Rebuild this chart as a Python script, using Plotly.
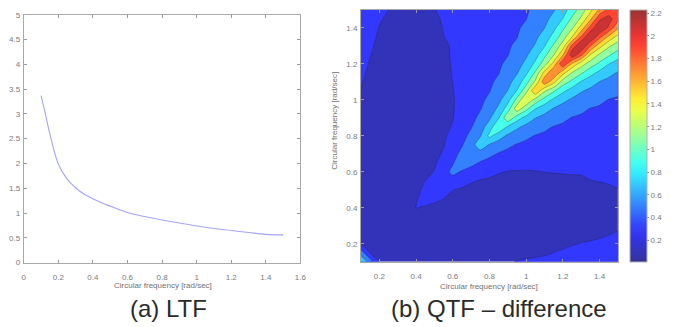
import plotly.graph_objects as go

# ---------------- data ----------------
# (a) LTF curve
ltf_freq = [0.10, 0.12, 0.15, 0.20, 0.25, 0.30, 0.35, 0.40, 0.45, 0.50, 0.60, 0.70,
            0.80, 0.90, 1.00, 1.10, 1.20, 1.30, 1.40, 1.50]
ltf_value = [3.37, 3.08, 2.61, 1.99, 1.69, 1.51, 1.38, 1.29, 1.21, 1.14, 1.01, 0.93,
             0.86, 0.80, 0.74, 0.69, 0.65, 0.61, 0.57, 0.56]

# (b) QTF difference
# rows: w2 (y), columns: w1 (x)
qtf_w1 = [0.1, 0.2, 0.3, 0.4, 0.5, 0.55, 0.6, 0.65, 0.7, 0.75, 0.8, 0.85, 0.9, 0.95,
          1.0, 1.05, 1.1, 1.15, 1.2, 1.25, 1.3, 1.35, 1.4, 1.45, 1.5]
qtf_w2 = [0.1, 0.2, 0.3, 0.4, 0.5, 0.55, 0.6, 0.65, 0.7, 0.75, 0.8, 0.85, 0.9, 0.95,
          1.0, 1.05, 1.1, 1.15, 1.2, 1.25, 1.3, 1.35, 1.4, 1.45, 1.5]
qtf_z = [
    [0.80, 0.19, 0.10, 0.08, 0.09, 0.095, 0.10, 0.11, 0.12, 0.135, 0.15, 0.17, 0.19, 0.205, 0.22, 0.23, 0.24, 0.255, 0.27, 0.285, 0.30, 0.315, 0.33, 0.345, 0.36],
    [0.19, 0.16, 0.08, 0.06, 0.05, 0.045, 0.04, 0.04, 0.04, 0.045, 0.05, 0.06, 0.07, 0.08, 0.09, 0.105, 0.12, 0.145, 0.17, 0.19, 0.205, 0.212, 0.22, 0.23, 0.24],
    [0.10, 0.08, 0.12, 0.10, 0.08, 0.075, 0.07, 0.065, 0.06, 0.055, 0.05, 0.05, 0.05, 0.055, 0.06, 0.065, 0.07, 0.08, 0.09, 0.105, 0.12, 0.135, 0.15, 0.167, 0.185],
    [0.08, 0.06, 0.10, 0.205, 0.16, 0.14, 0.12, 0.11, 0.10, 0.095, 0.09, 0.085, 0.08, 0.085, 0.09, 0.095, 0.10, 0.105, 0.11, 0.11, 0.11, 0.115, 0.12, 0.135, 0.15],
    [0.09, 0.05, 0.08, 0.16, 0.31, 0.26, 0.205, 0.18, 0.15, 0.15, 0.15, 0.145, 0.14, 0.145, 0.15, 0.155, 0.16, 0.165, 0.17, 0.17, 0.17, 0.17, 0.17, 0.185, 0.198],
    [0.095, 0.045, 0.075, 0.14, 0.26, 0.38, 0.32, 0.268, 0.22, 0.19, 0.18, 0.17, 0.165, 0.16, 0.16, 0.16, 0.165, 0.17, 0.17, 0.17, 0.17, 0.198, 0.204, 0.21, 0.216],
    [0.10, 0.04, 0.07, 0.12, 0.205, 0.32, 0.45, 0.382, 0.329, 0.282, 0.239, 0.209, 0.195, 0.19, 0.19, 0.195, 0.202, 0.205, 0.21, 0.215, 0.219, 0.223, 0.227, 0.231, 0.235],
    [0.105, 0.04, 0.065, 0.11, 0.18, 0.268, 0.382, 0.52, 0.452, 0.384, 0.336, 0.297, 0.27, 0.254, 0.246, 0.243, 0.243, 0.243, 0.243, 0.245, 0.246, 0.248, 0.249, 0.252, 0.254],
    [0.11, 0.04, 0.06, 0.10, 0.15, 0.22, 0.329, 0.452, 0.59, 0.522, 0.447, 0.386, 0.347, 0.321, 0.303, 0.292, 0.285, 0.28, 0.277, 0.275, 0.273, 0.272, 0.272, 0.272, 0.273],
    [0.12, 0.045, 0.055, 0.095, 0.15, 0.19, 0.282, 0.384, 0.522, 0.71, 0.584, 0.509, 0.44, 0.388, 0.361, 0.342, 0.328, 0.318, 0.31, 0.304, 0.30, 0.297, 0.294, 0.293, 0.292],
    [0.13, 0.05, 0.05, 0.09, 0.15, 0.18, 0.239, 0.336, 0.447, 0.584, 0.85, 0.69, 0.567, 0.499, 0.437, 0.391, 0.371, 0.356, 0.344, 0.334, 0.327, 0.321, 0.317, 0.313, 0.311],
    [0.14, 0.055, 0.05, 0.085, 0.145, 0.17, 0.209, 0.297, 0.386, 0.509, 0.69, 0.99, 0.776, 0.636, 0.552, 0.49, 0.434, 0.393, 0.377, 0.364, 0.354, 0.346, 0.339, 0.334, 0.33],
    [0.15, 0.06, 0.05, 0.08, 0.14, 0.165, 0.195, 0.27, 0.347, 0.44, 0.567, 0.776, 1.16, 0.897, 0.725, 0.605, 0.539, 0.483, 0.431, 0.394, 0.381, 0.371, 0.362, 0.355, 0.349],
    [0.165, 0.07, 0.055, 0.085, 0.145, 0.16, 0.19, 0.254, 0.321, 0.388, 0.499, 0.636, 0.897, 1.31, 1.06, 0.806, 0.682, 0.584, 0.528, 0.475, 0.427, 0.395, 0.384, 0.375, 0.368],
    [0.18, 0.08, 0.06, 0.09, 0.15, 0.16, 0.19, 0.246, 0.303, 0.361, 0.437, 0.552, 0.725, 1.06, 1.39, 1.133, 0.921, 0.758, 0.647, 0.57, 0.518, 0.47, 0.426, 0.396, 0.387],
    [0.195, 0.10, 0.065, 0.095, 0.155, 0.16, 0.195, 0.243, 0.292, 0.342, 0.391, 0.49, 0.605, 0.806, 1.133, 1.58, 1.236, 1.028, 0.842, 0.717, 0.617, 0.558, 0.511, 0.466, 0.424],
    [0.21, 0.12, 0.07, 0.10, 0.16, 0.165, 0.202, 0.243, 0.285, 0.328, 0.371, 0.434, 0.539, 0.682, 0.921, 1.236, 1.74, 1.47, 1.113, 0.944, 0.783, 0.684, 0.597, 0.549, 0.504],
    [0.225, 0.13, 0.075, 0.105, 0.165, 0.17, 0.205, 0.243, 0.28, 0.318, 0.356, 0.393, 0.483, 0.584, 0.758, 1.028, 1.47, 1.79, 1.475, 1.19, 1.031, 0.87, 0.747, 0.656, 0.584],
    [0.24, 0.14, 0.08, 0.11, 0.17, 0.17, 0.21, 0.243, 0.277, 0.31, 0.344, 0.377, 0.431, 0.528, 0.647, 0.842, 1.113, 1.475, 1.98, 1.576, 1.292, 1.102, 0.96, 0.805, 0.714],
    [0.255, 0.155, 0.09, 0.11, 0.17, 0.17, 0.215, 0.245, 0.275, 0.304, 0.334, 0.364, 0.394, 0.475, 0.57, 0.717, 0.944, 1.19, 1.576, 2.15, 1.86, 1.393, 1.165, 1.033, 0.893],
    [0.27, 0.17, 0.10, 0.11, 0.17, 0.17, 0.219, 0.246, 0.273, 0.30, 0.327, 0.354, 0.381, 0.427, 0.518, 0.617, 0.783, 1.031, 1.292, 1.86, 2.20, 1.82, 1.484, 1.236, 1.095],
    [0.285, 0.183, 0.115, 0.115, 0.17, 0.198, 0.223, 0.248, 0.272, 0.297, 0.321, 0.346, 0.371, 0.395, 0.47, 0.558, 0.684, 0.87, 1.102, 1.393, 1.82, 2.22, 1.876, 1.559, 1.333],
    [0.30, 0.195, 0.13, 0.12, 0.17, 0.204, 0.227, 0.249, 0.272, 0.294, 0.317, 0.339, 0.362, 0.384, 0.426, 0.511, 0.597, 0.747, 0.96, 1.165, 1.484, 1.876, 2.18, 1.965, 1.64],
    [0.315, 0.212, 0.15, 0.135, 0.185, 0.21, 0.231, 0.252, 0.272, 0.293, 0.313, 0.334, 0.355, 0.375, 0.396, 0.466, 0.549, 0.656, 0.805, 1.033, 1.236, 1.559, 1.965, 2.08, 1.856],
    [0.33, 0.23, 0.17, 0.15, 0.198, 0.216, 0.235, 0.254, 0.273, 0.292, 0.311, 0.33, 0.349, 0.368, 0.387, 0.424, 0.504, 0.584, 0.714, 0.893, 1.095, 1.333, 1.64, 1.856, 1.95],
]
cbar_ticks = [0.2, 0.4, 0.6, 0.8, 1.0, 1.2, 1.4, 1.6, 1.8, 2.0, 2.2]
cbar_labels = ["0.2", "0.4", "0.6", "0.8", "1", "1.2", "1.4", "1.6", "1.8", "2", "2.2"]
ltf_xticks = [0, 0.2, 0.4, 0.6, 0.8, 1.0, 1.2, 1.4, 1.6]
ltf_xlabels = ["0", "0.2", "0.4", "0.6", "0.8", "1", "1.2", "1.4", "1.6"]
ltf_yticks = [0, 0.5, 1, 1.5, 2, 2.5, 3, 3.5, 4, 4.5, 5]
ltf_ylabels = ["0", "0.5", "1", "1.5", "2", "2.5", "3", "3.5", "4", "4.5", "5"]
qtf_ticks = [0.2, 0.4, 0.6, 0.8, 1.0, 1.2, 1.4]
qtf_labels = ["0.2", "0.4", "0.6", "0.8", "1", "1.2", "1.4"]

# ---------------- style helpers ----------------
W, H = 675, 327
CMIN, CMAX = 0.01, 2.23


def jet(t):
    t = min(max(t, 0.0), 1.0)

    def c(v):
        return min(max(v, 0.0), 1.0)
    r = c(1.5 - abs(4 * t - 3))
    g = c(1.5 - abs(4 * t - 2))
    b = c(1.5 - abs(4 * t - 1))
    # washed-out look of the reference
    return "rgb(%d,%d,%d)" % tuple(int(round(v * 255 * 0.8 + 51)) for v in (r, g, b))


levels_size, n_bands = 0.2, 11
zmin, zmax = 0.0, 2.2
step_scale = []
for k in range(n_bands):
    mid = k * levels_size + levels_size / 2
    col = jet((mid - CMIN) / (CMAX - CMIN))
    step_scale.append([k / n_bands, col])
    step_scale.append([(k + 1) / n_bands, col])

cont_scale = [[i / 20, jet(i / 20)] for i in range(21)]


def px_x(p):
    return p / W


def px_y(p):
    return 1 - p / H


grey = "#8a8a8a"
tickfont = dict(family="Liberation Sans, Arial, sans-serif", size=8, color="#7a7a7a")

fig = go.Figure()

# (a) LTF
fig.add_trace(go.Scatter(x=ltf_freq, y=ltf_value, mode="lines",
                         line=dict(color="#a4a4f6", width=1.1, shape="spline"),
                         xaxis="x", yaxis="y", showlegend=False, hoverinfo="skip"))

# (b) QTF contour
fig.add_trace(go.Contour(x=qtf_w1, y=qtf_w2, z=qtf_z, xaxis="x2", yaxis="y2",
                         autocontour=False,
                         contours=dict(start=0.2, end=2.0, size=0.2, coloring="fill",
                                       showlines=True),
                         line=dict(color="rgba(35,35,35,0.5)", width=0.6, smoothing=0.6),
                         colorscale=step_scale, zauto=False, zmin=zmin, zmax=zmax,
                         showscale=False, hoverinfo="skip"))

# continuous colorbar (as in the reference)
fig.add_trace(go.Scatter(x=[0.8], y=[0.8], xaxis="x2", yaxis="y2", mode="markers",
                         marker=dict(size=1, opacity=0, color=[1.0], colorscale=cont_scale,
                                     cmin=CMIN, cmax=CMAX, showscale=True,
                                     colorbar=dict(x=px_x(636), xanchor="left",
                                                   y=(px_y(6) + px_y(265)) / 2, yanchor="middle",
                                                   len=(265 - 6) / H, lenmode="fraction",
                                                   thickness=17, thicknessmode="pixels",
                                                   xpad=0, ypad=0,
                                                   outlinewidth=1, outlinecolor="#b0b0b0",
                                                   tickvals=cbar_ticks, ticktext=cbar_labels,
                                                   ticks="outside", ticklen=2, tickcolor=grey,
                                                   tickfont=tickfont)),
                         showlegend=False, hoverinfo="skip"))

axis_common = dict(showgrid=False, zeroline=False, showline=True, linecolor="#a8a8a8",
                   linewidth=1, mirror="allticks", ticks="inside", ticklen=3,
                   tickcolor="#9a9a9a", tickfont=tickfont)

fig.update_layout(
    width=W, height=H, margin=dict(l=0, r=0, t=0, b=0),
    paper_bgcolor="white", plot_bgcolor="white", showlegend=False,
    xaxis=dict(domain=[px_x(22), px_x(302)], range=[0, 1.6], anchor="y",
               tickvals=ltf_xticks, ticktext=ltf_xlabels, ticklabelstandoff=7, **axis_common),
    yaxis=dict(domain=[px_y(266), px_y(11)], range=[0, 5], anchor="x",
               tickvals=ltf_yticks, ticktext=ltf_ylabels, ticklabelstandoff=1, **axis_common),
    xaxis2=dict(domain=[px_x(363.3), px_x(623.3)], range=[0.1, 1.5], anchor="y2",
                tickvals=qtf_ticks, ticktext=qtf_labels, ticklabelstandoff=7, **axis_common),
    yaxis2=dict(domain=[px_y(265), px_y(6)], range=[0.1, 1.5], anchor="x2",
                tickvals=qtf_ticks, ticktext=qtf_labels, ticklabelstandoff=1, **axis_common),
)

title_font = dict(family="Liberation Sans, Arial, sans-serif", size=8, color="#707070")
cap_font = dict(family="Liberation Sans, Arial, sans-serif", size=24, color="#2a2a2a")


def note(x, y, text, font, angle=0):
    fig.add_annotation(x=px_x(x), y=px_y(y), xref="paper", yref="paper",
                       xanchor="center", yanchor="middle", textangle=angle,
                       text=text, showarrow=False, font=font)


note(163, 289, "Circular frequency [rad/sec]", title_font)
note(493, 290, "Circular frequency [rad/sec]", title_font)
note(337, 120, "Circular frequency [rad/sec]", title_font, angle=-90)
note(168, 313, "(a) LTF", cap_font)
note(503, 313, "(b) QTF – difference", cap_font)

fig.write_html("out.html")
